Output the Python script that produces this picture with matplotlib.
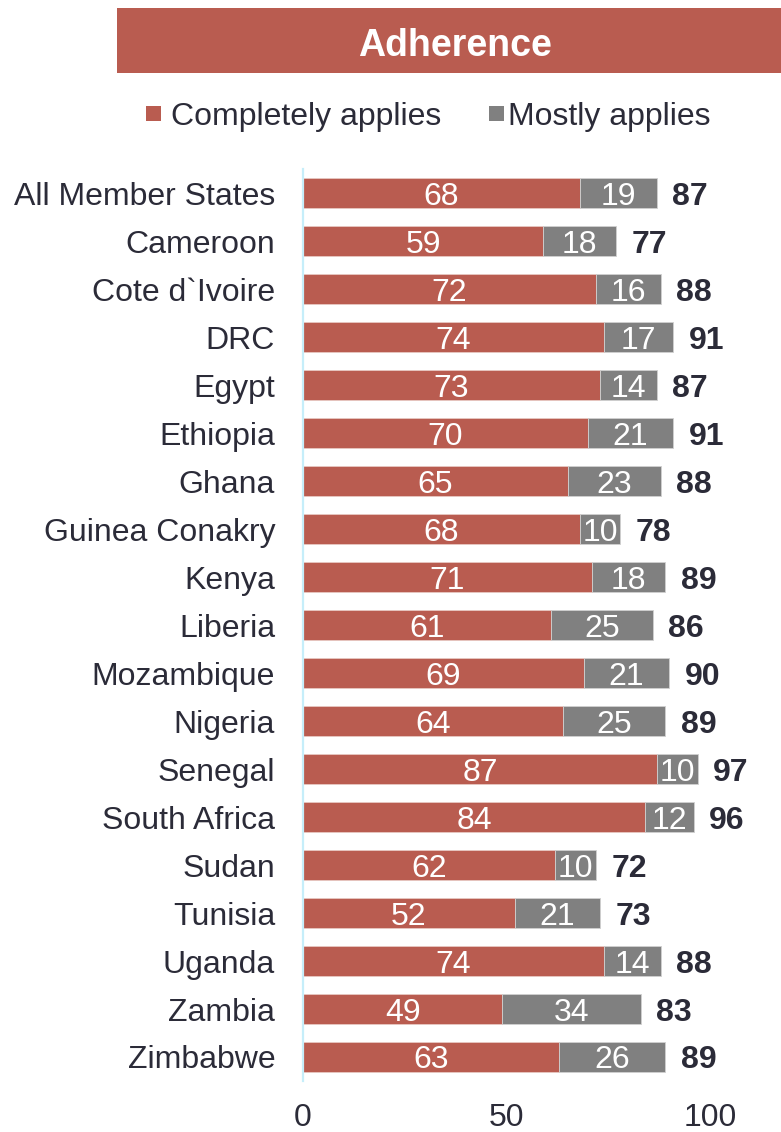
import matplotlib
matplotlib.use('Agg')
import matplotlib.pyplot as plt
from matplotlib.patches import Rectangle
import numpy as np

plt.rcParams['font.family'] = ['Liberation Sans', 'DejaVu Sans']

countries = ['All Member States', 'Cameroon', "Cote d`Ivoire", 'DRC', 'Egypt',
             'Ethiopia', 'Ghana', 'Guinea Conakry', 'Kenya', 'Liberia',
             'Mozambique', 'Nigeria', 'Senegal', 'South Africa', 'Sudan',
             'Tunisia', 'Uganda', 'Zambia', 'Zimbabwe']
completely = [68, 59, 72, 74, 73, 70, 65, 68, 71, 61, 69, 64, 87, 84, 62, 52, 74, 49, 63]
mostly = [19, 18, 16, 17, 14, 21, 23, 10, 18, 25, 21, 25, 10, 12, 10, 21, 14, 34, 26]
totals = [87, 77, 88, 91, 87, 91, 88, 78, 89, 86, 90, 89, 97, 96, 72, 73, 88, 83, 89]

red = '#B95C50'
grey = '#808080'
dark = '#2B2B38'
fs = 23

W, H = 781, 1132
fig = plt.figure(figsize=(W/100, H/100), dpi=100)

xmax = 115
ax = fig.add_axes([303/W, 1 - 1081/H, xmax*4.07/W, (1081-169)/H])

y = np.arange(len(countries))
ax.barh(y, completely, height=0.625, color=red, edgecolor='#E8C8C2', linewidth=0.6)
ax.barh(y, mostly, left=completely, height=0.625, color=grey, edgecolor='#D0D0D0', linewidth=0.6)

for i in range(len(countries)):
    ax.text(completely[i]/2, y[i], str(completely[i]), ha='center', va='center_baseline',
            color='white', fontsize=fs)
    ax.text(completely[i] + mostly[i]/2, y[i], str(mostly[i]), ha='center', va='center_baseline',
            color='white', fontsize=fs)
    ax.annotate(str(totals[i]), (totals[i], y[i]), xytext=(11, 0), textcoords='offset points',
                ha='left', va='center_baseline', color=dark, fontsize=fs, fontweight='bold')

ax.set_ylim(len(countries) - 0.5, -0.5)
ax.set_xlim(0, xmax)
ax.set_yticks(y)
ax.set_yticklabels(countries, fontsize=fs, color=dark)
ax.set_xticks([0, 50, 100])
ax.tick_params(axis='both', length=0, labelsize=fs, colors=dark)
ax.tick_params(axis='y', pad=20)
ax.tick_params(axis='x', pad=16)
for s in ['top', 'right', 'bottom']:
    ax.spines[s].set_visible(False)
ax.spines['left'].set_color('#C6EEFA')
ax.spines['left'].set_linewidth(1.6)

# title banner
fig.patches.append(Rectangle((117/W, 1 - 73/H), 1 - 117/W, 65/H, transform=fig.transFigure,
                             facecolor=red, edgecolor='none'))
fig.text(455/W, 1 - 42/H, 'Adherence', ha='center', va='center_baseline', color='white',
         fontsize=27, fontweight='bold')

# legend
fig.patches.append(Rectangle((146/W, 1 - 121/H), 15/W, 15/H, transform=fig.transFigure,
                             facecolor=red, edgecolor='none'))
fig.text(171/W, 1 - 114/H, 'Completely applies', ha='left', va='center_baseline', color=dark, fontsize=fs)
fig.patches.append(Rectangle((489/W, 1 - 121/H), 15/W, 15/H, transform=fig.transFigure,
                             facecolor=grey, edgecolor='none'))
fig.text(508/W, 1 - 114/H, 'Mostly applies', ha='left', va='center_baseline', color=dark, fontsize=fs)

fig.savefig('out.png', dpi=100)
